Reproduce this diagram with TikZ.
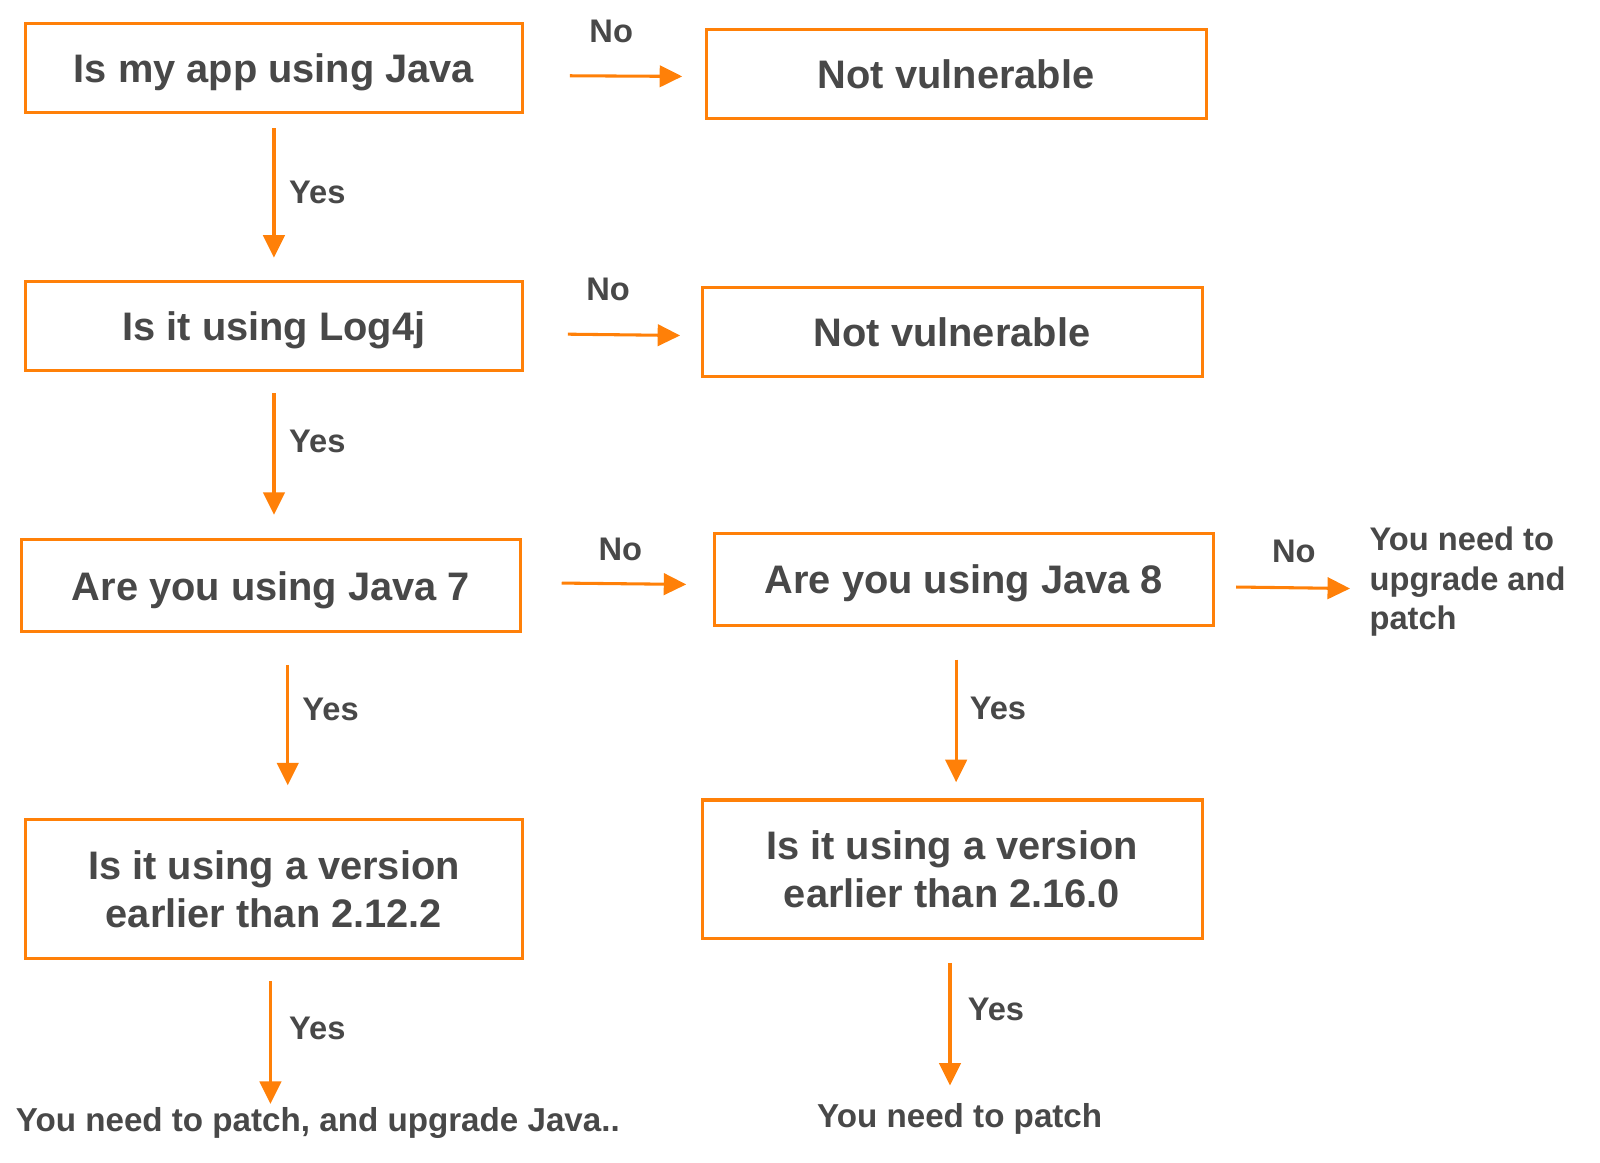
\documentclass[tikz,border=0pt]{standalone}
\usepackage{fontspec}
\setmainfont{Liberation Sans}
\usetikzlibrary{arrows.meta}
\definecolor{orng}{RGB}{255,128,8}
\definecolor{txt}{RGB}{72,72,72}
\begin{document}
\begin{tikzpicture}[x=1pt,y=-1pt,
  box/.style={draw=orng,line width=3pt,inner sep=0pt,align=center,text=txt,
    font=\bfseries\fontsize{39}{47}\selectfont,text height=28pt,text depth=0pt},
  box2/.style={box,text height=75pt,text depth=0pt},
  lbl/.style={inner sep=0pt,text=txt,font=\bfseries\fontsize{32}{38}\selectfont},
  endtxt/.style={inner sep=0pt,text=txt,font=\bfseries\fontsize{32.5}{38}\selectfont,text height=23pt,text depth=7pt},
  arr/.style={draw=orng,line width=3pt,-{Triangle[length=22pt,width=21pt]}}]
\useasboundingbox (0,0) rectangle (1568,1139.7);
\fill[white] (0,0) rectangle (1568,1139.7);
% boxes
\node[box,minimum width=487pt,minimum height=87pt] (b1) at (268.5,66.5) {Is my app using Java};
\node[box,minimum width=490pt,minimum height=87pt] (b2) at (937,72.5) {Not vulnerable};
\node[box,minimum width=487pt,minimum height=87pt] (b3) at (268.5,319.5) {Is it using Log4j};
\node[box,minimum width=490pt,minimum height=87pt] (b4) at (933,325.5) {Not vulnerable};
\node[box,minimum width=489pt,minimum height=90pt] (b5) at (265.5,574) {Are you using Java 7};
\node[box,minimum width=489pt,minimum height=90pt] (b6) at (944.5,568) {Are you using Java 8};
\node[box2,minimum width=487pt,minimum height=136pt] (b7) at (268.5,871) {Is it using a version\\earlier than 2.12.2};
\node[box2,minimum width=490pt,minimum height=136pt] (b8) at (933,852) {Is it using a version\\earlier than 2.16.0};
% end texts
\node[inner sep=0pt,text=txt,font=\bfseries\fontsize{32}{38.5}\selectfont,align=left,anchor=west] (t1) at (1342,570) {You need to\\upgrade and\\patch};
\node[endtxt,anchor=base] (t2) at (311.5,1109) {You need to patch, and upgrade Java..};
\node[endtxt,anchor=base] (t3) at (940.5,1105) {You need to patch};
% connectors
\draw[arr,shorten <=14pt,shorten >=22pt] (b1.south) -- (b3.north);
\draw[arr,shorten <=45pt,shorten >=22pt] ([yshift=-7.5pt]b1.east) -- ([yshift=-2.5pt]b2.west);
\draw[arr,shorten <=21pt,shorten >=23pt] (b3.south) -- ([xshift=3pt]b5.north);
\draw[arr,shorten <=43pt,shorten >=20pt] ([yshift=-7.5pt]b3.east) -- ([yshift=-3.5pt]b4.west);
\draw[arr,shorten <=39pt,shorten >=26pt] ([yshift=3pt]b5.east) -- ([yshift=-5pt]b6.west);
\draw[arr,shorten <=31pt,shorten >=32pt] ([xshift=16.5pt]b5.south) -- ([xshift=13.5pt]b7.north);
\draw[arr,shorten <=21pt,shorten >=19pt] ([yshift=-7pt]b6.east) -- ([yshift=-7pt]t1.west);
\draw[arr,shorten <=32pt,shorten >=16pt] ([xshift=-7.5pt]b6.south) -- ([xshift=4pt]b8.north);
\draw[arr,shorten <=21pt,shorten >=4pt] ([xshift=-3.5pt]b7.south) -- ([xshift=-46.5pt]t2.north);
\draw[arr,shorten <=22pt,shorten >=18pt] ([xshift=-2pt]b8.south) -- ([xshift=-9.5pt]t3.north);
% labels
\node[lbl] (y1) at (311,189) {Yes};
\node[lbl] (n1) at (599,31) {No};
\node[lbl] (y2) at (311,433) {Yes};
\node[lbl] (n2) at (596,284) {No};
\node[lbl] (n3) at (608,538) {No};
\node[lbl] (y3) at (324,695) {Yes};
\node[lbl] (n4) at (1268,540) {No};
\node[lbl] (y4) at (978,694) {Yes};
\node[lbl] (y5) at (311,1008) {Yes};
\node[lbl] (y6) at (976,989) {Yes};
\end{tikzpicture}
\end{document}
